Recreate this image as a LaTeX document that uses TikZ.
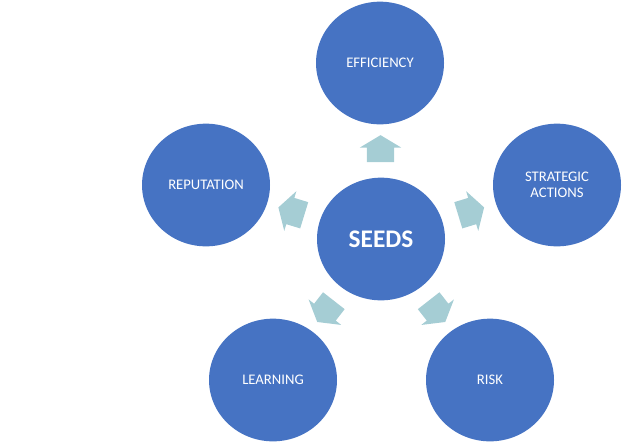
\documentclass[tikz,border=0pt]{standalone}
\usepackage{fontspec}
\setmainfont{Carlito}
\usetikzlibrary{shapes.geometric, shapes.arrows, calc}
\definecolor{seedblue}{RGB}{70,115,195}
\definecolor{arrowteal}{RGB}{165,205,212}

\begin{document}
\begin{tikzpicture}[x=0.75pt, y=-0.75pt,
    bubble/.style={ellipse, fill=seedblue, text=white, inner sep=0pt,
      minimum width=96pt, minimum height=92pt, align=center,
      font=\fontsize{11}{12}\selectfont},
    hub/.style={bubble, font=\fontsize{19}{21}\selectfont\bfseries},
    pointer/.style={single arrow, fill=arrowteal, inner xsep=0pt,
      inner ysep=10.1pt, minimum height=20.25pt,
      single arrow head extend=5.25pt, single arrow tip angle=118}]
        \useasboundingbox (0,0) rectangle (624,444);
        % Circles
        \node[hub] (seeds) at (381,239) {SEEDS};
        \node[bubble] (eff) at (380,63) {EFFICIENCY};
        \node[bubble] (strat) at (557,185) {STRATEGIC\\ACTIONS};
        \node[bubble] (risk) at (490,380) {RISK};
        \node[bubble] (learn) at (273,380) {LEARNING};
        \node[bubble] (rep) at (206,185) {REPUTATION};
        % Arrows between circles
        \node[pointer, rotate=90] (toeff) at ($(seeds)!0.49!(eff)$) {};
        \node[pointer, rotate=17] (tostrat) at ($(seeds)!0.49!(strat)$) {};
        \node[pointer, rotate=-52] (torisk) at ($(seeds)!0.49!(risk)$) {};
        \node[pointer, rotate=-128] (tolearn) at ($(seeds)!0.49!(learn)$) {};
        \node[pointer, rotate=163] (torep) at ($(seeds)!0.49!(rep)$) {};
    \end{tikzpicture}
\end{document}
